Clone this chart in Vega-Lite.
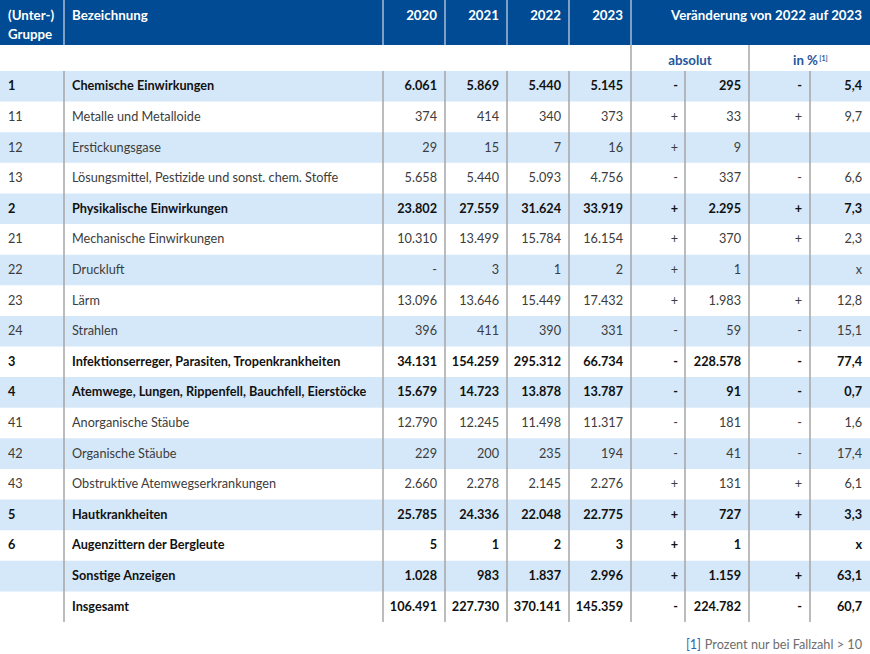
{
  "$schema": "https://vega.github.io/schema/vega-lite/v6.json",
  "padding": 0,
  "autosize": "pad",
  "background": "white",
  "spacing": 0,
  "config": {
    "view": {"stroke": null},
    "font": "Lato",
    "text": {"font": "Lato", "fontSize": 12.7},
    "locale": {"number": {"decimal": ",", "thousands": ".", "grouping": [3], "currency": ["", " €"]}}
  },
  "data": {
    "format": {"parse": null},
    "values": [
      {"g": "1", "name": "Chemische Einwirkungen", "y2020": 6061, "y2021": 5869, "y2022": 5440, "y2023": 5145, "sign": "-", "abs": 295, "pct": 5.4},
      {"g": "11", "name": "Metalle und Metalloide", "y2020": 374, "y2021": 414, "y2022": 340, "y2023": 373, "sign": "+", "abs": 33, "pct": 9.7},
      {"g": "12", "name": "Erstickungsgase", "y2020": 29, "y2021": 15, "y2022": 7, "y2023": 16, "sign": "+", "abs": 9, "pct": null},
      {"g": "13", "name": "Lösungsmittel, Pestizide und sonst. chem. Stoffe", "y2020": 5658, "y2021": 5440, "y2022": 5093, "y2023": 4756, "sign": "-", "abs": 337, "pct": 6.6},
      {"g": "2", "name": "Physikalische Einwirkungen", "y2020": 23802, "y2021": 27559, "y2022": 31624, "y2023": 33919, "sign": "+", "abs": 2295, "pct": 7.3},
      {"g": "21", "name": "Mechanische Einwirkungen", "y2020": 10310, "y2021": 13499, "y2022": 15784, "y2023": 16154, "sign": "+", "abs": 370, "pct": 2.3},
      {"g": "22", "name": "Druckluft", "y2020": null, "y2021": 3, "y2022": 1, "y2023": 2, "sign": "+", "abs": 1, "pct": "x"},
      {"g": "23", "name": "Lärm", "y2020": 13096, "y2021": 13646, "y2022": 15449, "y2023": 17432, "sign": "+", "abs": 1983, "pct": 12.8},
      {"g": "24", "name": "Strahlen", "y2020": 396, "y2021": 411, "y2022": 390, "y2023": 331, "sign": "-", "abs": 59, "pct": 15.1},
      {"g": "3", "name": "Infektionserreger, Parasiten, Tropenkrankheiten", "y2020": 34131, "y2021": 154259, "y2022": 295312, "y2023": 66734, "sign": "-", "abs": 228578, "pct": 77.4},
      {"g": "4", "name": "Atemwege, Lungen, Rippenfell, Bauchfell, Eierstöcke", "y2020": 15679, "y2021": 14723, "y2022": 13878, "y2023": 13787, "sign": "-", "abs": 91, "pct": 0.7},
      {"g": "41", "name": "Anorganische Stäube", "y2020": 12790, "y2021": 12245, "y2022": 11498, "y2023": 11317, "sign": "-", "abs": 181, "pct": 1.6},
      {"g": "42", "name": "Organische Stäube", "y2020": 229, "y2021": 200, "y2022": 235, "y2023": 194, "sign": "-", "abs": 41, "pct": 17.4},
      {"g": "43", "name": "Obstruktive Atemwegserkrankungen", "y2020": 2660, "y2021": 2278, "y2022": 2145, "y2023": 2276, "sign": "+", "abs": 131, "pct": 6.1},
      {"g": "5", "name": "Hautkrankheiten", "y2020": 25785, "y2021": 24336, "y2022": 22048, "y2023": 22775, "sign": "+", "abs": 727, "pct": 3.3},
      {"g": "6", "name": "Augenzittern der Bergleute", "y2020": 5, "y2021": 1, "y2022": 2, "y2023": 3, "sign": "+", "abs": 1, "pct": "x"},
      {"g": "", "name": "Sonstige Anzeigen", "y2020": 1028, "y2021": 983, "y2022": 1837, "y2023": 2996, "sign": "+", "abs": 1159, "pct": 63.1},
      {"g": "", "name": "Insgesamt", "y2020": 106491, "y2021": 227730, "y2022": 370141, "y2023": 145359, "sign": "-", "abs": 224782, "pct": 60.7}
    ]
  },
  "transform": [{"window": [{"op": "row_number", "as": "r"}]}],
  "vconcat": [
    {
      "hconcat": [
        {"width": 64, "height": 45, "view": {"fill": "#004b93"}, "data": {"values": [{"a": "(Unter-)", "b": "Gruppe"}]},
         "layer": [
           {"mark": {"type": "text", "align": "left", "x": 0, "dx": 8, "dy": -6.5, "fontWeight": "bold", "fontSize": 13.3, "color": "white"}, "encoding": {"text": {"field": "a"}}},
           {"mark": {"type": "text", "align": "left", "x": 0, "dx": 8, "dy": 12, "fontWeight": "bold", "fontSize": 13.3, "color": "white"}, "encoding": {"text": {"field": "b"}}}
         ]},
        {"width": 319, "height": 45, "view": {"fill": "#004b93"}, "data": {"values": [{"a": "Bezeichnung"}]},
         "layer": [
           {"mark": {"type": "rect", "color": "#a9bcd9"}, "encoding": {"x": {"value": -0.75}, "x2": {"value": 0.75}}},
           {"mark": {"type": "text", "align": "left", "x": 0, "dx": 8, "dy": -6.5, "fontWeight": "bold", "fontSize": 13.3, "color": "white"}, "encoding": {"text": {"field": "a"}}}
         ]},
        {"width": 62, "height": 45, "view": {"fill": "#004b93"}, "data": {"values": [{"a": "2020"}]},
         "layer": [
           {"mark": {"type": "rect", "color": "#a9bcd9"}, "encoding": {"x": {"value": -0.75}, "x2": {"value": 0.75}}},
           {"mark": {"type": "text", "align": "right", "x": "width", "dx": -8, "dy": -6.5, "fontWeight": "bold", "fontSize": 13.3, "color": "white"}, "encoding": {"text": {"field": "a"}}}
         ]},
        {"width": 62, "height": 45, "view": {"fill": "#004b93"}, "data": {"values": [{"a": "2021"}]},
         "layer": [
           {"mark": {"type": "rect", "color": "#a9bcd9"}, "encoding": {"x": {"value": -0.75}, "x2": {"value": 0.75}}},
           {"mark": {"type": "text", "align": "right", "x": "width", "dx": -8, "dy": -6.5, "fontWeight": "bold", "fontSize": 13.3, "color": "white"}, "encoding": {"text": {"field": "a"}}}
         ]},
        {"width": 62, "height": 45, "view": {"fill": "#004b93"}, "data": {"values": [{"a": "2022"}]},
         "layer": [
           {"mark": {"type": "rect", "color": "#a9bcd9"}, "encoding": {"x": {"value": -0.75}, "x2": {"value": 0.75}}},
           {"mark": {"type": "text", "align": "right", "x": "width", "dx": -8, "dy": -6.5, "fontWeight": "bold", "fontSize": 13.3, "color": "white"}, "encoding": {"text": {"field": "a"}}}
         ]},
        {"width": 62, "height": 45, "view": {"fill": "#004b93"}, "data": {"values": [{"a": "2023"}]},
         "layer": [
           {"mark": {"type": "rect", "color": "#a9bcd9"}, "encoding": {"x": {"value": -0.75}, "x2": {"value": 0.75}}},
           {"mark": {"type": "text", "align": "right", "x": "width", "dx": -8, "dy": -6.5, "fontWeight": "bold", "fontSize": 13.3, "color": "white"}, "encoding": {"text": {"field": "a"}}}
         ]},
        {"width": 239, "height": 45, "view": {"fill": "#004b93"}, "data": {"values": [{"a": "Veränderung von 2022 auf 2023"}]},
         "layer": [
           {"mark": {"type": "rect", "color": "#a9bcd9"}, "encoding": {"x": {"value": -0.75}, "x2": {"value": 0.75}}},
           {"mark": {"type": "text", "align": "right", "x": "width", "dx": -8, "dy": -6.5, "fontWeight": "bold", "fontSize": 13.3, "color": "white"}, "encoding": {"text": {"field": "a"}}}
         ]}
      ],
      "spacing": 0, "bounds": "flush"
    },
    {
      "hconcat": [
        {"width": 631, "height": 25.7, "data": {"values": [{"a": ""}]}, "mark": {"type": "text"}, "encoding": {"text": {"field": "a"}}},
        {"width": 118, "height": 25.7, "data": {"values": [{"a": "absolut"}]},
         "layer": [
           {"mark": {"type": "rect", "color": "#a6a6a6"}, "encoding": {"x": {"value": -0.75}, "x2": {"value": 0.75}}},
           {"mark": {"type": "text", "align": "center", "dy": 3, "fontWeight": "bold", "fontSize": 13.3, "color": "#1f56a0"}, "encoding": {"text": {"field": "a"}}}
         ]},
        {"width": 121, "height": 25.7, "data": {"values": [{"a": "in %", "b": "[1]"}]},
         "layer": [
           {"mark": {"type": "rect", "color": "#a6a6a6"}, "encoding": {"x": {"value": -0.75}, "x2": {"value": 0.75}}},
           {"mark": {"type": "text", "align": "center", "dx": -4, "dy": 3, "fontWeight": "bold", "fontSize": 13.3, "color": "#1f56a0"}, "encoding": {"text": {"field": "a"}}},
           {"mark": {"type": "text", "align": "center", "dx": 14, "dy": 1.5, "fontWeight": "bold", "fontSize": 7, "color": "#1f56a0"}, "encoding": {"text": {"field": "b"}}}
         ]}
      ],
      "spacing": 0, "bounds": "flush"
    },
    {
      "resolve": {"scale": {"y": "shared"}},
      "hconcat": [
        {"width": 64, "height": 551,
         "layer": [
           {"transform": [{"filter": "datum.r % 2 == 1"}], "mark": {"type": "rect", "color": "#d5e8f9"}, "encoding": {"y": {"field": "r", "type": "ordinal", "axis": null, "scale": {"paddingInner": 0, "paddingOuter": 0}}}},
           {"mark": {"type": "text", "align": "left", "x": 0, "dx": 8, "fontWeight": {"expr": "length(datum.g) <= 1 ? 'bold' : 'normal'"}},
            "encoding": {"y": {"field": "r", "type": "ordinal"}, "text": {"field": "g"}, "color": {"condition": {"test": "length(datum.g) <= 1", "value": "#111111"}, "value": "#3c3c3c"}}}
         ]},
        {"width": 319, "height": 551,
         "layer": [
           {"transform": [{"filter": "datum.r % 2 == 1"}], "mark": {"type": "rect", "color": "#d5e8f9"}, "encoding": {"y": {"field": "r", "type": "ordinal", "axis": null, "scale": {"paddingInner": 0, "paddingOuter": 0}}}},
           {"data": {"values": [{}]}, "mark": {"type": "rect", "color": "#a6a6a6"}, "encoding": {"x": {"value": -0.75}, "x2": {"value": 0.75}}},
           {"mark": {"type": "text", "align": "left", "x": 0, "dx": 8, "fontWeight": {"expr": "length(datum.g) <= 1 ? 'bold' : 'normal'"}},
            "encoding": {"y": {"field": "r", "type": "ordinal"}, "text": {"field": "name"}, "color": {"condition": {"test": "length(datum.g) <= 1", "value": "#111111"}, "value": "#3c3c3c"}}}
         ]},
        {"width": 62, "height": 551,
         "layer": [
           {"transform": [{"filter": "datum.r % 2 == 1"}], "mark": {"type": "rect", "color": "#d5e8f9"}, "encoding": {"y": {"field": "r", "type": "ordinal", "axis": null, "scale": {"paddingInner": 0, "paddingOuter": 0}}}},
           {"data": {"values": [{}]}, "mark": {"type": "rect", "color": "#a6a6a6"}, "encoding": {"x": {"value": -0.75}, "x2": {"value": 0.75}}},
           {"mark": {"type": "text", "align": "right", "x": "width", "dx": -8, "fontWeight": {"expr": "length(datum.g) <= 1 ? 'bold' : 'normal'"}},
            "encoding": {"y": {"field": "r", "type": "ordinal"}, "text": {"condition": {"test": "datum.y2020 == null", "value": "-"}, "field": "y2020", "type": "quantitative", "format": ",d"}, "color": {"condition": {"test": "length(datum.g) <= 1", "value": "#111111"}, "value": "#3c3c3c"}}}
         ]},
        {"width": 62, "height": 551,
         "layer": [
           {"transform": [{"filter": "datum.r % 2 == 1"}], "mark": {"type": "rect", "color": "#d5e8f9"}, "encoding": {"y": {"field": "r", "type": "ordinal", "axis": null, "scale": {"paddingInner": 0, "paddingOuter": 0}}}},
           {"data": {"values": [{}]}, "mark": {"type": "rect", "color": "#a6a6a6"}, "encoding": {"x": {"value": -0.75}, "x2": {"value": 0.75}}},
           {"mark": {"type": "text", "align": "right", "x": "width", "dx": -8, "fontWeight": {"expr": "length(datum.g) <= 1 ? 'bold' : 'normal'"}},
            "encoding": {"y": {"field": "r", "type": "ordinal"}, "text": {"field": "y2021", "type": "quantitative", "format": ",d"}, "color": {"condition": {"test": "length(datum.g) <= 1", "value": "#111111"}, "value": "#3c3c3c"}}}
         ]},
        {"width": 62, "height": 551,
         "layer": [
           {"transform": [{"filter": "datum.r % 2 == 1"}], "mark": {"type": "rect", "color": "#d5e8f9"}, "encoding": {"y": {"field": "r", "type": "ordinal", "axis": null, "scale": {"paddingInner": 0, "paddingOuter": 0}}}},
           {"data": {"values": [{}]}, "mark": {"type": "rect", "color": "#a6a6a6"}, "encoding": {"x": {"value": -0.75}, "x2": {"value": 0.75}}},
           {"mark": {"type": "text", "align": "right", "x": "width", "dx": -8, "fontWeight": {"expr": "length(datum.g) <= 1 ? 'bold' : 'normal'"}},
            "encoding": {"y": {"field": "r", "type": "ordinal"}, "text": {"field": "y2022", "type": "quantitative", "format": ",d"}, "color": {"condition": {"test": "length(datum.g) <= 1", "value": "#111111"}, "value": "#3c3c3c"}}}
         ]},
        {"width": 62, "height": 551,
         "layer": [
           {"transform": [{"filter": "datum.r % 2 == 1"}], "mark": {"type": "rect", "color": "#d5e8f9"}, "encoding": {"y": {"field": "r", "type": "ordinal", "axis": null, "scale": {"paddingInner": 0, "paddingOuter": 0}}}},
           {"data": {"values": [{}]}, "mark": {"type": "rect", "color": "#a6a6a6"}, "encoding": {"x": {"value": -0.75}, "x2": {"value": 0.75}}},
           {"mark": {"type": "text", "align": "right", "x": "width", "dx": -8, "fontWeight": {"expr": "length(datum.g) <= 1 ? 'bold' : 'normal'"}},
            "encoding": {"y": {"field": "r", "type": "ordinal"}, "text": {"field": "y2023", "type": "quantitative", "format": ",d"}, "color": {"condition": {"test": "length(datum.g) <= 1", "value": "#111111"}, "value": "#3c3c3c"}}}
         ]},
        {"width": 54, "height": 551,
         "layer": [
           {"transform": [{"filter": "datum.r % 2 == 1"}], "mark": {"type": "rect", "color": "#d5e8f9"}, "encoding": {"y": {"field": "r", "type": "ordinal", "axis": null, "scale": {"paddingInner": 0, "paddingOuter": 0}}}},
           {"data": {"values": [{}]}, "mark": {"type": "rect", "color": "#a6a6a6"}, "encoding": {"x": {"value": -0.75}, "x2": {"value": 0.75}}},
           {"mark": {"type": "text", "align": "right", "x": "width", "dx": -7, "fontWeight": {"expr": "length(datum.g) <= 1 ? 'bold' : 'normal'"}},
            "encoding": {"y": {"field": "r", "type": "ordinal"}, "text": {"field": "sign"}, "color": {"condition": {"test": "length(datum.g) <= 1", "value": "#111111"}, "value": "#3c3c3c"}}}
         ]},
        {"width": 64, "height": 551,
         "layer": [
           {"transform": [{"filter": "datum.r % 2 == 1"}], "mark": {"type": "rect", "color": "#d5e8f9"}, "encoding": {"y": {"field": "r", "type": "ordinal", "axis": null, "scale": {"paddingInner": 0, "paddingOuter": 0}}}},
           {"data": {"values": [{}]}, "mark": {"type": "rect", "color": "#a6a6a6"}, "encoding": {"x": {"value": -0.75}, "x2": {"value": 0.75}}},
           {"mark": {"type": "text", "align": "right", "x": "width", "dx": -8, "fontWeight": {"expr": "length(datum.g) <= 1 ? 'bold' : 'normal'"}},
            "encoding": {"y": {"field": "r", "type": "ordinal"}, "text": {"field": "abs", "type": "quantitative", "format": ",d"}, "color": {"condition": {"test": "length(datum.g) <= 1", "value": "#111111"}, "value": "#3c3c3c"}}}
         ]},
        {"width": 61, "height": 551,
         "layer": [
           {"transform": [{"filter": "datum.r % 2 == 1"}], "mark": {"type": "rect", "color": "#d5e8f9"}, "encoding": {"y": {"field": "r", "type": "ordinal", "axis": null, "scale": {"paddingInner": 0, "paddingOuter": 0}}}},
           {"data": {"values": [{}]}, "mark": {"type": "rect", "color": "#a6a6a6"}, "encoding": {"x": {"value": -0.75}, "x2": {"value": 0.75}}},
           {"mark": {"type": "text", "align": "right", "x": "width", "dx": -8, "fontWeight": {"expr": "length(datum.g) <= 1 ? 'bold' : 'normal'"}},
            "encoding": {"y": {"field": "r", "type": "ordinal"}, "text": {"condition": {"test": "!isNumber(datum.pct)", "value": ""}, "field": "sign"}, "color": {"condition": {"test": "length(datum.g) <= 1", "value": "#111111"}, "value": "#3c3c3c"}}}
         ]},
        {"width": 60, "height": 551,
         "layer": [
           {"transform": [{"filter": "datum.r % 2 == 1"}], "mark": {"type": "rect", "color": "#d5e8f9"}, "encoding": {"y": {"field": "r", "type": "ordinal", "axis": null, "scale": {"paddingInner": 0, "paddingOuter": 0}}}},
           {"data": {"values": [{}]}, "mark": {"type": "rect", "color": "#a6a6a6"}, "encoding": {"x": {"value": -0.75}, "x2": {"value": 0.75}}},
           {"mark": {"type": "text", "align": "right", "x": "width", "dx": -8, "fontWeight": {"expr": "length(datum.g) <= 1 ? 'bold' : 'normal'"}},
            "encoding": {"y": {"field": "r", "type": "ordinal"}, "text": {"condition": [{"test": "datum.pct === 'x'", "value": "x"}, {"test": "datum.pct == null", "value": ""}], "field": "pct", "type": "quantitative", "format": ".1f"}, "color": {"condition": {"test": "length(datum.g) <= 1", "value": "#111111"}, "value": "#3c3c3c"}}}
         ]}
      ],
      "spacing": 0, "bounds": "flush"
    },
    {
      "width": 870, "height": 32.3,
      "data": {"values": [{"a": "Prozent nur bei Fallzahl > 10", "b": "[1]"}]},
      "layer": [
        {"mark": {"type": "text", "align": "right", "x": "width", "dx": -8, "dy": 7, "fontSize": 12.7, "color": "#6e6e6e"}, "encoding": {"text": {"field": "a"}}},
        {"mark": {"type": "text", "align": "right", "x": "width", "dx": -169, "dy": 7, "fontSize": 12.7, "color": "#2f67b1"}, "encoding": {"text": {"field": "b"}}}
      ]
    }
  ]
}
